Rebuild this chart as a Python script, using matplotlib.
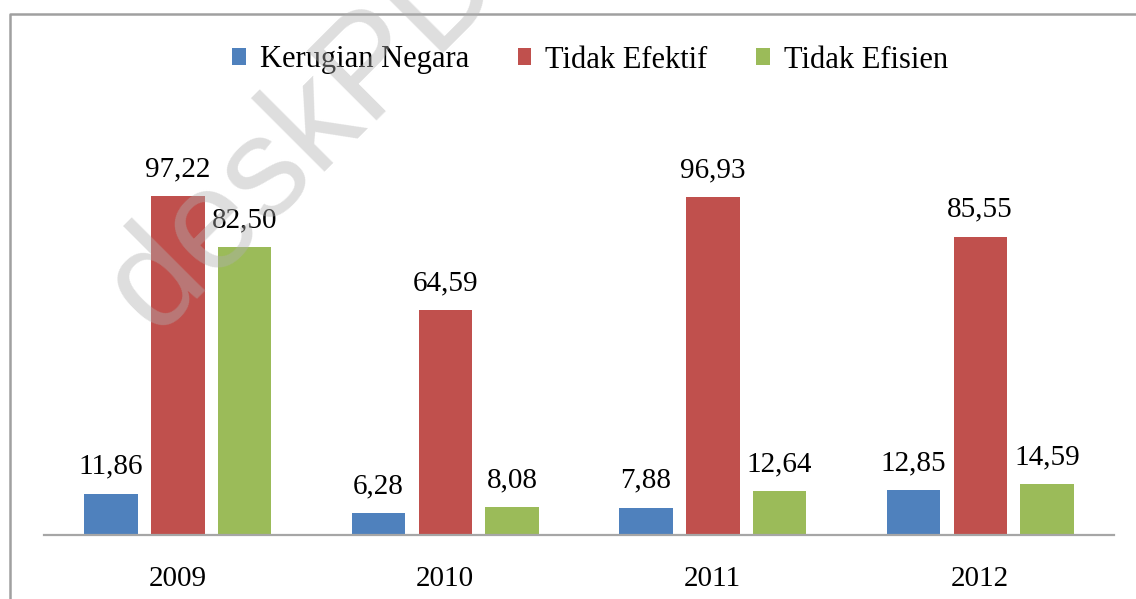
import matplotlib
matplotlib.use("Agg")
import matplotlib.pyplot as plt
from matplotlib.patches import Patch
from matplotlib.lines import Line2D
import numpy as np

# Data
years = ["2009", "2010", "2011", "2012"]
series_names = ["Kerugian Negara", "Tidak Efektif", "Tidak Efisien"]
kerugian_negara = [11.86, 6.28, 7.88, 12.85]
tidak_efektif = [97.22, 64.59, 96.93, 85.55]
tidak_efisien = [82.50, 8.08, 12.64, 14.59]
colors = ["#4f81bd", "#c0504d", "#9bbb59"]

plt.rcParams["font.family"] = ["Liberation Serif", "DejaVu Serif"]

W, H = 1136, 599
fig = plt.figure(figsize=(W / 100, H / 100), dpi=100)

# Plot area (pixel-based placement)
left, right, bottom, top = 44, 1114, 535, 186.3
ax = fig.add_axes([left / W, (H - bottom) / H, (right - left) / W, (bottom - top) / H])

x = np.arange(len(years))
width = 0.2
offsets = [-0.25, 0, 0.25]
all_series = [kerugian_negara, tidak_efektif, tidak_efisien]

for vals, off, col in zip(all_series, offsets, colors):
    bars = ax.bar(x + off, vals, width, color=col, edgecolor="none")
    ax.bar_label(bars, labels=[f"{v:.2f}".replace(".", ",") for v in vals],
                 padding=10, fontsize=21)

ax.set_xlim(-0.5, len(years) - 0.5)
ax.set_ylim(0, 100)
ax.set_xticks(x)
ax.set_xticklabels(years, fontsize=21)
ax.tick_params(axis="x", length=0, pad=22)
ax.set_yticks([])
for side in ["top", "right", "left"]:
    ax.spines[side].set_visible(False)
ax.spines["bottom"].set_color("#a6a6a6")
ax.spines["bottom"].set_linewidth(1.6)
ax.patch.set_alpha(0)

# Legend
handles = [Patch(facecolor=c, edgecolor="none") for c in colors]
fig.legend(handles, series_names, loc="center", ncol=3,
           bbox_to_anchor=(590 / W, 1 - 60 / H), frameon=False,
           fontsize=22, handlelength=0.45, handleheight=0.45,
           handletextpad=0.45, columnspacing=1.6)

# Outer chart frame
fig.add_artist(Line2D([10 / W, 10 / W, 1], [0, 1 - 14 / H, 1 - 14 / H],
                      transform=fig.transFigure, color="#a0a0a0", linewidth=1.8))

# Watermark
fig.text(155 / W, 1 - 335 / H, "deskPDF", rotation=45, rotation_mode="anchor",
         ha="left", va="baseline", fontsize=102, color="#b0b0b0", alpha=0.42,
         family=["Liberation Sans", "DejaVu Sans"], zorder=10)

fig.savefig("out.png", dpi=100)
